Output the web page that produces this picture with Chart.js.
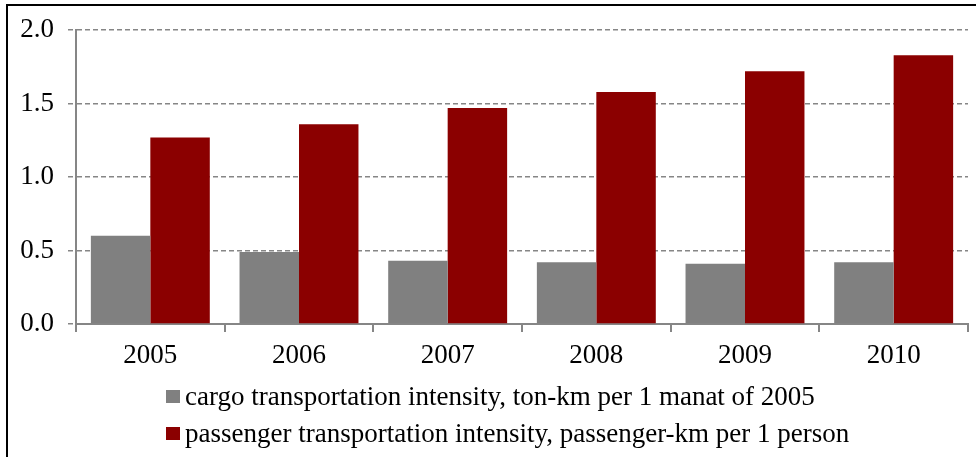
<!DOCTYPE html>
<html lang="en">
<head>
  <meta charset="UTF-8" />
  <title>Transportation intensity</title>
  <script src="https://cdn.jsdelivr.net/npm/chart.js@4.4.0/dist/chart.umd.min.js"></script>
  <style>
    body {
      margin: 0;
      background: white;
      font-family: "Liberation Serif", serif;
    }
    .frame {
      position: absolute;
      left: 6px;
      top: 4px;
      width: 1000px;
      height: 500px;
      border: 2px solid black;
    }
    #chartBox {
      position: absolute;
      left: 0;
      top: 0;
      width: 976px;
      height: 457px;
    }
    .legend {
      position: absolute;
      left: 166px;
      top: 378px;
      font-size: 27px;
      color: black;
    }
    .legend .item {
      display: flex;
      align-items: center;
      height: 37px;
      white-space: nowrap;
    }
    .legend .box {
      width: 14px;
      height: 13px;
      margin-right: 5px;
    }
  </style>
</head>
<body>
  <div class="frame"></div>
  <div id="chartBox"><canvas id="chart"></canvas></div>
  <div class="legend" id="legend"></div>

  <script>
    const years = ['2005', '2006', '2007', '2008', '2009', '2010'];
    const cargo = [0.60, 0.49, 0.43, 0.42, 0.41, 0.42];
    const passenger = [1.27, 1.36, 1.47, 1.58, 1.72, 1.83];
    const seriesNames = [
      'cargo transportation intensity, ton-km per 1 manat of 2005',
      'passenger transportation intensity, passenger-km per 1 person'
    ];
    const seriesColors = ['#808080', '#8b0000'];

    const axisGray = '#868686';

    const chart = new Chart(document.getElementById('chart'), {
      type: 'bar',
      data: {
        labels: years,
        datasets: [
          { label: seriesNames[0], data: cargo, backgroundColor: seriesColors[0] },
          { label: seriesNames[1], data: passenger, backgroundColor: seriesColors[1] }
        ]
      },
      options: {
        responsive: true,
        maintainAspectRatio: false,
        animation: false,
        layout: { padding: { top: 30, right: 8, left: 0, bottom: 0 } },
        datasets: {
          bar: { categoryPercentage: 0.8, barPercentage: 1.0 }
        },
        plugins: {
          legend: { display: false },
          tooltip: { enabled: false }
        },
        scales: {
          x: {
            grid: {
              offset: true,
              drawOnChartArea: false,
              drawTicks: true,
              tickLength: 8,
              color: axisGray,
              lineWidth: 2
            },
            border: { display: true, color: axisGray, width: 2 },
            ticks: {
              color: 'black',
              padding: 8,
              font: { family: 'Liberation Serif', size: 27 }
            },
            afterFit: (scale) => { scale.height = 133; }
          },
          y: {
            min: 0,
            max: 2,
            ticks: {
              stepSize: 0.5,
              color: 'black',
              padding: 14,
              font: { family: 'Liberation Serif', size: 27 },
              callback: (v) => Number(v).toFixed(1)
            },
            grid: {
              color: axisGray,
              lineWidth: 1.5,
              tickLength: 8,
              tickBorderDash: [5, 3]
            },
            border: { display: true, color: axisGray, width: 2, dash: [5, 3] },
            afterFit: (scale) => { scale.width = 76; }
          }
        }
      }
    });

    // legend, two rows left aligned as in the original
    const legendEl = document.getElementById('legend');
    seriesNames.forEach((name, i) => {
      const row = document.createElement('div');
      row.className = 'item';
      const box = document.createElement('span');
      box.className = 'box';
      box.style.background = seriesColors[i];
      const txt = document.createElement('span');
      txt.textContent = name;
      row.appendChild(box);
      row.appendChild(txt);
      legendEl.appendChild(row);
    });
  </script>
</body>
</html>
